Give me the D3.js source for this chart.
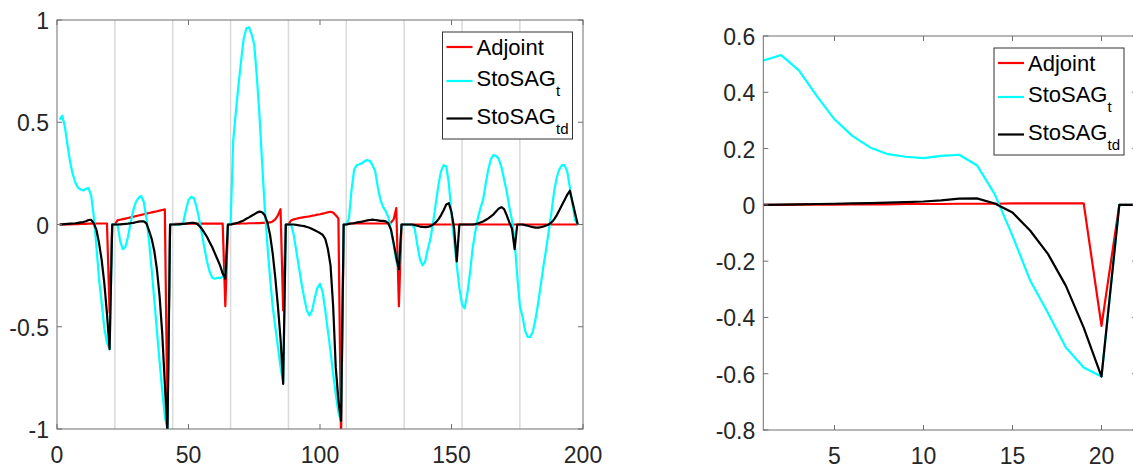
<!DOCTYPE html>
<html>
<head>
<meta charset="utf-8">
<script src="https://cdn.jsdelivr.net/npm/d3@7/dist/d3.min.js"></script>
<style>
  body { margin: 0; background: #fff; }
  svg { display: block; }
  text { font-family: "Liberation Sans", Arial, sans-serif; fill: #262626; }
</style>
</head>
<body>
<svg id="chart" width="1133" height="468"></svg>
<script>
/*
* DATA (9 control periods of 22 steps, x = 1..198)
*/
var adjoint = [
  0, 0, 0.001, 0.001, 0.001, 0.002, 0.002, 0.002, 0.003, 0.003, 0.003, 0.004, 0.004, 0.004, 0.005, 0.005, 0.005, 0.005, 0.005, -0.43, 0, 0,
  0.02, 0.023, 0.026, 0.029, 0.032, 0.035, 0.038, 0.041, 0.044, 0.047, 0.05, 0.053, 0.056, 0.059, 0.062, 0.065, 0.068, 0.071, 0.074, -0.97, 0, 0,
  0.003, 0.003, 0.003, 0.004, 0.004, 0.004, 0.004, 0.004, 0.004, 0.004, 0.004, 0.004, 0.004, 0.004, 0.004, 0.004, 0.004, 0.004, 0.004, -0.4, 0, 0,
  0.003, 0.004, 0.004, 0.005, 0.005, 0.005, 0.006, 0.006, 0.006, 0.007, 0.007, 0.008, 0.008, 0.009, 0.01, 0.015, 0.025, 0.045, 0.075, -0.42, 0, 0,
  0.02, 0.025, 0.028, 0.031, 0.034, 0.036, 0.038, 0.04, 0.043, 0.045, 0.048, 0.05, 0.053, 0.056, 0.06, 0.062, 0.058, 0.045, 0.03, -1.05, 0, 0,
  0.005, 0.005, 0.005, 0.005, 0.005, 0.005, 0.005, 0.005, 0.005, 0.005, 0.005, 0.005, 0.005, 0.005, 0.005, 0.005, 0.01, 0.025, 0.08, -0.4, 0, 0,
  0, 0, 0, 0, 0, 0, 0, 0, 0, 0, 0, 0, 0, 0, 0, 0, 0, 0, 0, 0, 0, 0,
  0, 0, 0, 0, 0, 0, 0, 0, 0, 0, 0, 0, 0, 0, 0, 0, 0, 0, 0, 0, 0, 0,
  0, 0, 0, 0, 0, 0, 0, 0, 0, 0, 0, 0, 0, 0, 0, 0, 0, 0, 0, 0, 0, 0
];

var stosagT = [
  0.513, 0.532, 0.478, 0.387, 0.304, 0.245, 0.204, 0.18, 0.171, 0.166, 0.174, 0.178, 0.141, 0.038, -0.11, -0.27, -0.385, -0.507, -0.578, -0.61, 0, 0,
  0, -0.08, -0.12, -0.11, -0.06, 0.01, 0.07, 0.11, 0.13, 0.14, 0.11, 0.03, -0.08, -0.22, -0.37, -0.52, -0.67, -0.81, -0.94, -1.0, 0, 0,
  0, 0, 0, 0.01, 0.07, 0.12, 0.135, 0.13, 0.09, 0.03, -0.04, -0.11, -0.18, -0.23, -0.26, -0.265, -0.26, -0.262, -0.255, -0.25, 0, 0,
  0.41, 0.55, 0.68, 0.8, 0.91, 0.96, 0.965, 0.93, 0.88, 0.72, 0.53, 0.3, 0.08, -0.1, -0.26, -0.4, -0.5, -0.6, -0.7, -0.77, 0, 0,
  0, -0.05, -0.13, -0.21, -0.29, -0.36, -0.42, -0.445, -0.42, -0.36, -0.31, -0.29, -0.33, -0.42, -0.52, -0.62, -0.73, -0.83, -0.92, -0.96, 0, 0,
  0.03, 0.17, 0.27, 0.29, 0.295, 0.3, 0.31, 0.315, 0.31, 0.29, 0.26, 0.18, 0.12, 0.085, 0.065, 0.035, -0.03, -0.1, -0.18, -0.22, 0, 0,
  0, 0, 0, -0.02, -0.1, -0.17, -0.2, -0.18, -0.12, -0.07, 0.01, 0.1, 0.19, 0.26, 0.29, 0.285, 0.2, 0.05, -0.08, -0.2, -0.31, -0.39,
  -0.41, -0.34, -0.24, -0.12, -0.04, 0.03, 0.08, 0.12, 0.2, 0.27, 0.32, 0.34, 0.335, 0.32, 0.28, 0.22, 0.16, 0.085, 0.02, -0.08, -0.25, -0.4,
  -0.45, -0.52, -0.55, -0.55, -0.52, -0.46, -0.38, -0.29, -0.2, -0.12, -0.03, 0.06, 0.16, 0.23, 0.27, 0.29, 0.29, 0.26, 0.18, 0.1, 0.02, 0
];

var stosagTd = [
  0, 0.001, 0.002, 0.003, 0.004, 0.005, 0.006, 0.008, 0.01, 0.012, 0.016, 0.022, 0.023, 0.005, -0.027, -0.092, -0.175, -0.288, -0.436, -0.61, 0, 0,
  0, 0.001, 0.002, 0.003, 0.004, 0.006, 0.008, 0.011, 0.014, 0.016, 0.015, 0.005, -0.03, -0.07, -0.13, -0.22, -0.35, -0.53, -0.78, -1.02, 0, 0,
  0, 0.001, 0.002, 0.003, 0.004, 0.006, 0.008, 0.008, 0.005, -0.005, -0.02, -0.04, -0.06, -0.085, -0.11, -0.14, -0.17, -0.2, -0.24, -0.265, 0, 0,
  0.003, 0.006, 0.01, 0.015, 0.02, 0.028, 0.035, 0.043, 0.05, 0.058, 0.063, 0.06, 0.045, 0.01, -0.05, -0.14, -0.26, -0.4, -0.56, -0.78, 0, 0,
  0, 0, -0.002, -0.004, -0.006, -0.008, -0.012, -0.016, -0.022, -0.028, -0.035, -0.042, -0.05, -0.07, -0.12, -0.2, -0.4, -0.7, -0.86, -0.96, 0, 0,
  0.003, 0.005, 0.007, 0.01, 0.012, 0.014, 0.017, 0.02, 0.022, 0.024, 0.022, 0.02, 0.018, 0.018, 0.015, 0.005, -0.025, -0.09, -0.16, -0.22, 0, 0,
  0, 0, 0, -0.003, -0.006, -0.01, -0.012, -0.013, -0.012, -0.008, 0, 0.01, 0.025, 0.045, 0.07, 0.098, 0.104, 0.06, -0.02, -0.18, 0, 0,
  0, 0, 0, 0, 0.002, 0.005, 0.01, 0.015, 0.022, 0.03, 0.04, 0.05, 0.065, 0.078, 0.085, 0.075, 0.045, 0.01, -0.02, -0.12, 0, 0,
  0, -0.003, -0.006, -0.01, -0.013, -0.015, -0.015, -0.013, -0.01, -0.005, 0, 0.01, 0.025, 0.045, 0.07, 0.095, 0.12, 0.145, 0.165, 0.11, 0.055, 0
];

// period boundaries (gray lines on the left plot)
var boundaries = [22, 44, 66, 88, 110, 132, 154, 176];

// tick values and labels
var leftXTicks = [0, 50, 100, 150, 200];
var leftXLabels = ['0', '50', '100', '150', '200'];
var leftYTicks = [-1, -0.5, 0, 0.5, 1];
var leftYLabels = ['-1', '-0.5', '0', '0.5', '1'];
var rightXTicks = [5, 10, 15, 20];
var rightXLabels = ['5', '10', '15', '20'];
var rightYTicks = [-0.8, -0.6, -0.4, -0.2, 0, 0.2, 0.4, 0.6];
var rightYLabels = ['-0.8', '-0.6', '-0.4', '-0.2', '0', '0.2', '0.4', '0.6'];

var seriesNames = [['Adjoint', ''], ['StoSAG', 't'], ['StoSAG', 'td']];
var seriesColors = ['#ff0000', '#00ffff', '#000000'];

var svg = d3.select('#chart');

function drawPanel(p) {
  var x = d3.scaleLinear().domain(p.xDomain).range([p.left, p.right]);
  var y = d3.scaleLinear().domain(p.yDomain).range([p.bottom, p.top]);
  var g = svg.append('g');

  g.append('clipPath').attr('id', p.id + '-clip')
    .append('rect')
    .attr('x', p.left).attr('y', p.top)
    .attr('width', p.right - p.left).attr('height', p.bottom - p.top);

  //gray period lines
  g.selectAll('.vline').data(p.vlines).enter().append('line')
    .attr('x1', function(d) { return x(d); })
    .attr('x2', function(d) { return x(d); })
    .attr('y1', p.top).attr('y2', p.bottom)
    .attr('stroke', '#dadada').attr('stroke-width', 1.5);

  //series lines
  var plot = g.append('g').attr('clip-path', 'url(#' + p.id + '-clip)');
  var line = d3.line()
    .x(function(d, i) { return x(i + 1); })
    .y(function(d) { return y(d); });
  p.series.forEach(function(s, k) {
    plot.append('path')
      .attr('d', line(s))
      .attr('fill', 'none')
      .attr('stroke', seriesColors[k])
      .attr('stroke-width', 2.2)
      .attr('stroke-linejoin', 'round');
  });

  //axes box and ticks (inward, on all four sides)
  var axisColor = '#6e6e6e';
  g.append('rect')
    .attr('x', p.left).attr('y', p.top)
    .attr('width', p.right - p.left).attr('height', p.bottom - p.top)
    .attr('fill', 'none').attr('stroke', axisColor).attr('stroke-width', 1);

  var tl = 5;
  p.xTicks.forEach(function(t, i) {
    var xx = x(t);
    g.append('line').attr('x1', xx).attr('x2', xx).attr('y1', p.bottom).attr('y2', p.bottom - tl)
      .attr('stroke', axisColor);
    g.append('line').attr('x1', xx).attr('x2', xx).attr('y1', p.top).attr('y2', p.top + tl)
      .attr('stroke', axisColor);
    g.append('text').attr('x', xx).attr('y', p.bottom + 34)
      .attr('text-anchor', 'middle').style('font-size', '23px')
      .text(p.xLabels[i]);
  });
  p.yTicks.forEach(function(t, i) {
    var yy = y(t);
    g.append('line').attr('x1', p.left).attr('x2', p.left + tl).attr('y1', yy).attr('y2', yy)
      .attr('stroke', axisColor);
    g.append('line').attr('x1', p.right).attr('x2', p.right - tl).attr('y1', yy).attr('y2', yy)
      .attr('stroke', axisColor);
    g.append('text').attr('x', p.left - 8).attr('y', yy + 9)
      .attr('text-anchor', 'end').style('font-size', '23px')
      .text(p.yLabels[i]);
  });

  //legend
  var lg = g.append('g').attr('transform', 'translate(' + p.legendX + ',' + p.legendY + ')');
  lg.append('rect').attr('x', 0).attr('y', 0).attr('width', 130).attr('height', 107)
    .attr('fill', '#fff').attr('stroke', '#333').attr('stroke-width', 1);
  var rowY = [15, 49, 86.5];
  var baseOff = [8, 4.5, 5];
  seriesNames.forEach(function(n, k) {
    lg.append('line').attr('x1', 4).attr('x2', 30).attr('y1', rowY[k]).attr('y2', rowY[k])
      .attr('stroke', seriesColors[k]).attr('stroke-width', 2.2);
    var t = lg.append('text').attr('x', 34).attr('y', rowY[k] + baseOff[k])
      .style('font-size', '22px').style('fill', '#000');
    t.append('tspan').text(n[0]);
    if (n[1]) {
      t.append('tspan').attr('dy', 10).style('font-size', '15px').text(n[1]);
    }
  });
}

drawPanel({
  id: 'left', left: 57, right: 583, top: 20, bottom: 429,
  xDomain: [0, 200], yDomain: [-1, 1],
  xTicks: leftXTicks, xLabels: leftXLabels,
  yTicks: leftYTicks, yLabels: leftYLabels,
  vlines: boundaries,
  series: [adjoint, stosagT, stosagTd],
  legendX: 442.5, legendY: 32
});

drawPanel({
  id: 'right', left: 763.3, right: 1137.1, top: 36, bottom: 430,
  xDomain: [1, 22], yDomain: [-0.8, 0.6],
  xTicks: rightXTicks, xLabels: rightXLabels,
  yTicks: rightYTicks, yLabels: rightYLabels,
  vlines: [],
  series: [adjoint.slice(0, 22), stosagT.slice(0, 22), stosagTd.slice(0, 22)],
  legendX: 994, legendY: 48
});
</script>
</body>
</html>
